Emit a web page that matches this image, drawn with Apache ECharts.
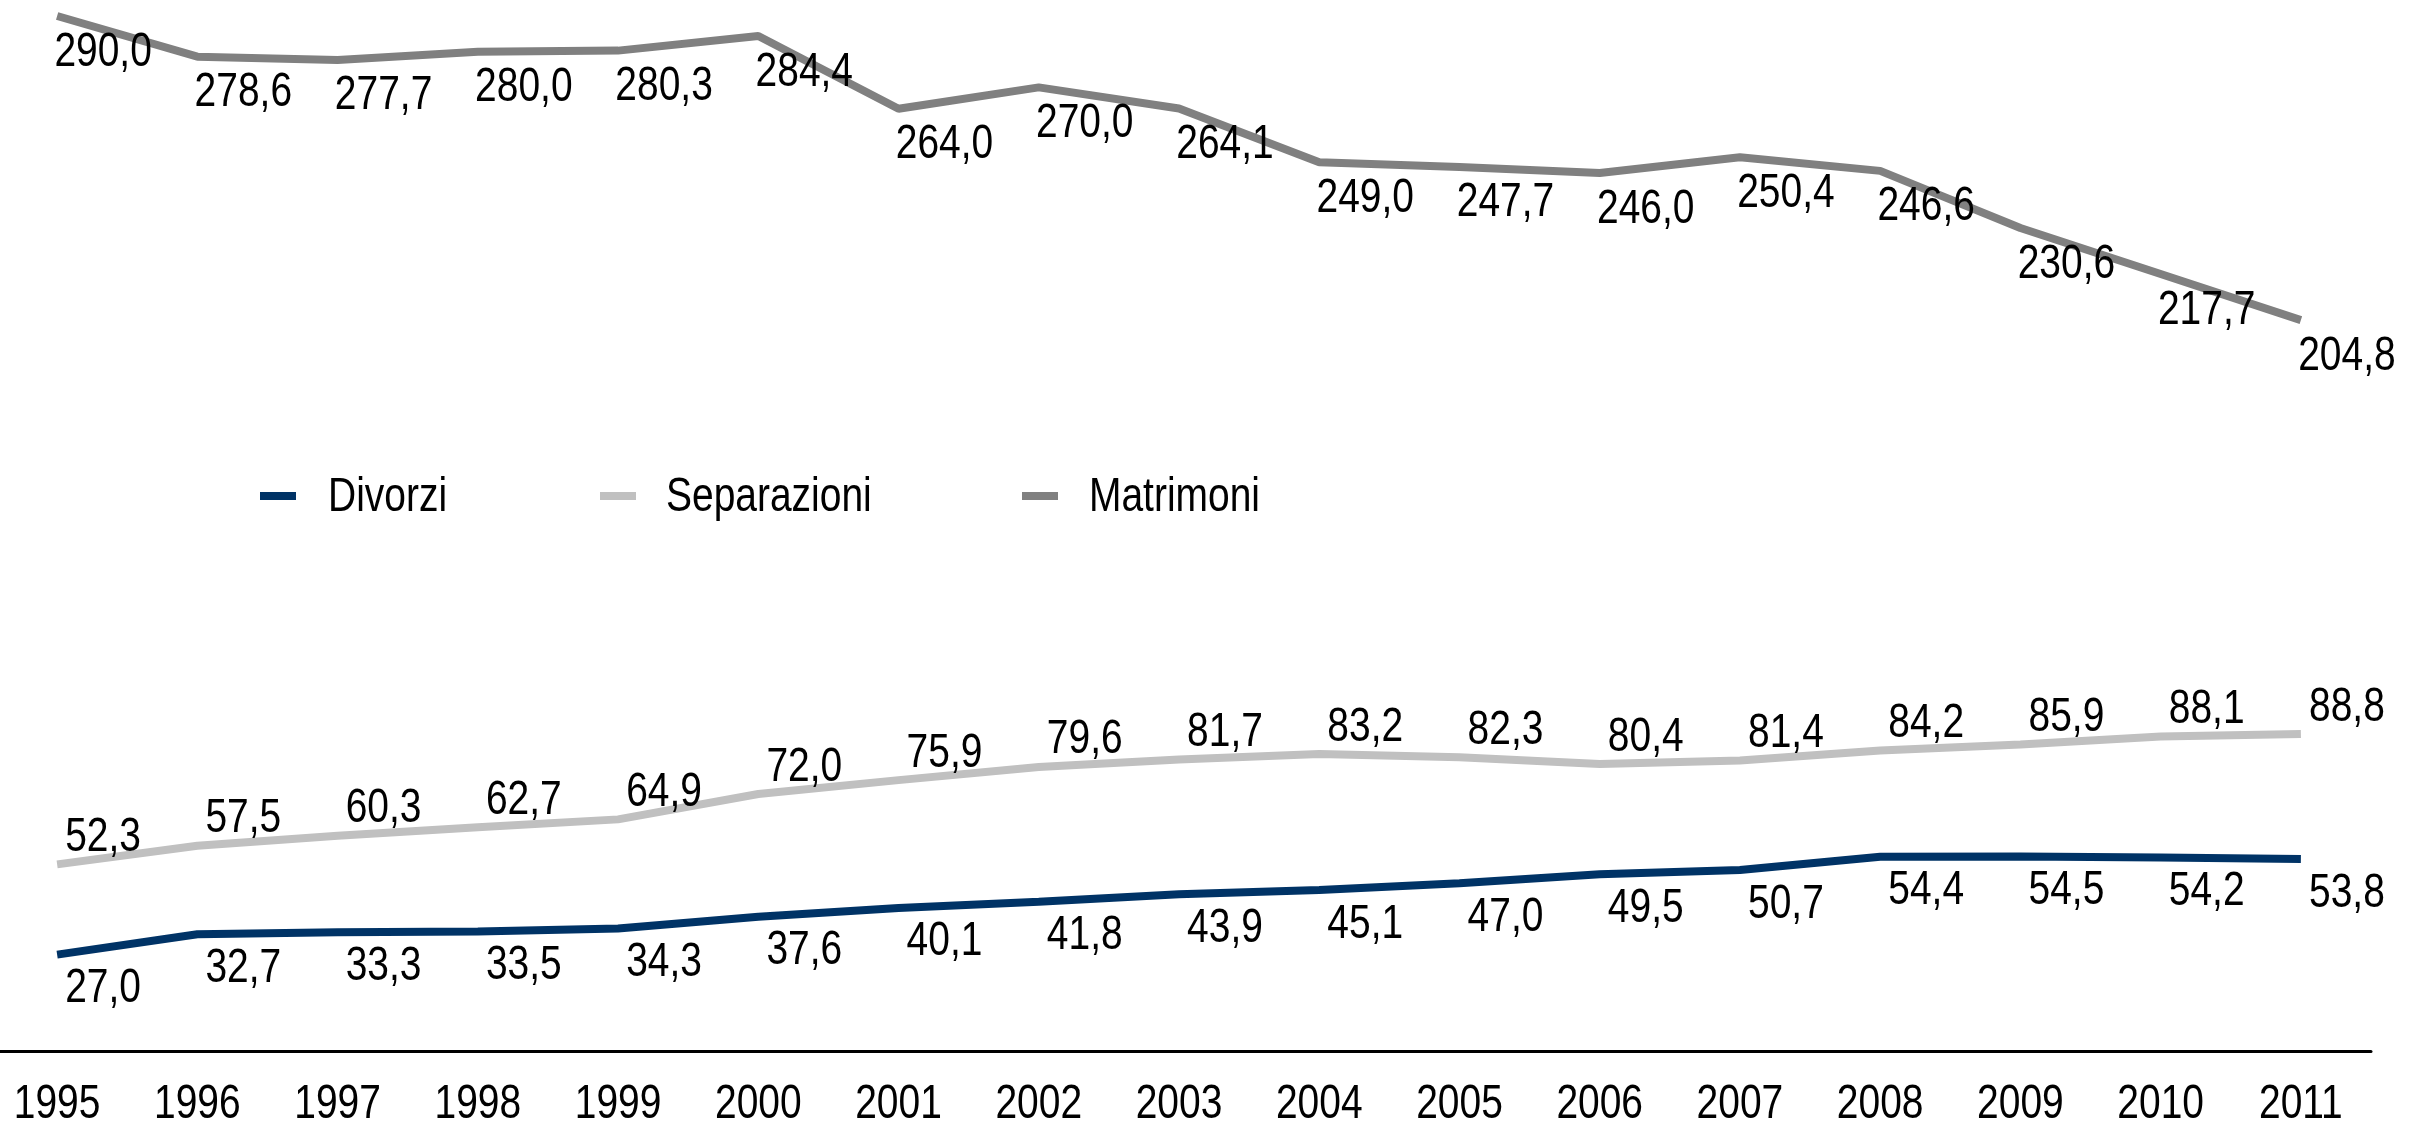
<!DOCTYPE html>
<html>
<head>
<meta charset="utf-8">
<script src="https://cdn.jsdelivr.net/npm/echarts@6/dist/echarts.min.js"></script>
<style>
  html, body { margin: 0; padding: 0; background: #fff; }
  #main { width: 2429px; height: 1128px; }
</style>
</head>
<body>
<div id="main"></div>
<script>
var anni = ['1995','1996','1997','1998','1999','2000','2001','2002','2003','2004','2005','2006','2007','2008','2009','2010','2011'];
var divorzi = [27.0, 32.7, 33.3, 33.5, 34.3, 37.6, 40.1, 41.8, 43.9, 45.1, 47.0, 49.5, 50.7, 54.4, 54.5, 54.2, 53.8];
var separazioni = [52.3, 57.5, 60.3, 62.7, 64.9, 72.0, 75.9, 79.6, 81.7, 83.2, 82.3, 80.4, 81.4, 84.2, 85.9, 88.1, 88.8];
var matrimoni = [290.0, 278.6, 277.7, 280.0, 280.3, 284.4, 264.0, 270.0, 264.1, 249.0, 247.7, 246.0, 250.4, 246.6, 230.6, 217.7, 204.8];
var nomi = ['Divorzi', 'Separazioni', 'Matrimoni'];
var colori = ['#003366', '#c0c0c0', '#808080'];

// testo "narrow": Liberation Sans schiacciato in orizzontale
var font = '49px "Liberation Sans", Arial, sans-serif';
var stretto = 0.795;

function linea(i, dati) {
  return {
    name: nomi[i],
    type: 'line',
    data: dati,
    symbol: 'none',
    itemStyle: { color: colori[i] },
    lineStyle: { color: colori[i], width: 8 },
    z: 2
  };
}

// etichette dei valori, sotto o sopra il punto
function etichette(dati, dy) {
  return {
    type: 'custom',
    data: dati.map(function (v, i) { return [i, v]; }),
    z: 5,
    silent: true,
    renderItem: function (params, api) {
      var p = api.coord([api.value(0), api.value(1)]);
      return {
        type: 'text',
        x: p[0] + 46,
        y: p[1] + dy,
        scaleX: stretto,
        style: {
          text: api.value(1).toFixed(1).replace('.', ','),
          font: font, fill: '#000', align: 'center', verticalAlign: 'middle'
        }
      };
    }
  };
}

// anni sotto l'asse
var etichetteAnni = {
  type: 'custom',
  data: anni.map(function (a, i) { return [i, 0]; }),
  silent: true,
  renderItem: function (params, api) {
    var p = api.coord([api.value(0), 0]);
    return {
      type: 'text',
      x: p[0],
      y: p[1] + 53,
      scaleX: stretto,
      style: { text: anni[params.dataIndex], font: font, fill: '#000', align: 'center', verticalAlign: 'middle' }
    };
  }
};

// legenda
var xIcone = [260, 600, 1022];
var xTesti = [328, 666, 1089];
var legenda = [];
nomi.forEach(function (n, i) {
  legenda.push({ type: 'rect', x: xIcone[i], y: 492, shape: { width: 36, height: 8 }, style: { fill: colori[i] } });
  legenda.push({ type: 'text', x: xTesti[i], y: 497, scaleX: stretto,
    style: { text: n, font: font, fill: '#000', align: 'left', verticalAlign: 'middle' } });
});

var myChart = echarts.init(document.getElementById('main'));
myChart.setOption({
  animation: false,
  grid: { left: -13, right: 58, top: 16, bottom: 77, outerBoundsMode: 'none' },
  graphic: legenda,
  xAxis: {
    type: 'category',
    data: anni,
    boundaryGap: true,
    axisLine: { lineStyle: { color: '#000', width: 3 } },
    axisTick: { show: false },
    axisLabel: { show: false }
  },
  yAxis: {
    type: 'value',
    show: false,
    min: 0,
    max: 290,
    splitLine: { show: false }
  },
  series: [
    linea(0, divorzi),
    linea(1, separazioni),
    linea(2, matrimoni),
    etichette(divorzi, 34),
    etichette(separazioni, -27),
    etichette(matrimoni, 36),
    etichetteAnni
  ]
});
</script>
</body>
</html>
